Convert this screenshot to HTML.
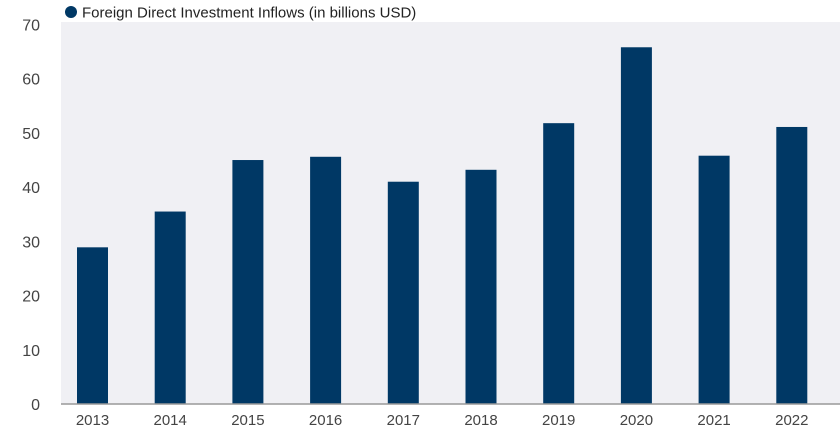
<!DOCTYPE html>
<html><head><meta charset="utf-8"><style>
body{margin:0;background:#fff;width:840px;height:433px;overflow:hidden;font-family:"Liberation Sans",sans-serif}
</style></head><body>
<svg id="chart" width="840" height="433" xmlns="http://www.w3.org/2000/svg">
<rect x="61" y="22" width="779" height="382" fill="#f0f0f4"/>
<circle cx="71" cy="12" r="6" fill="#003865"/>
<text x="82" y="17.5" font-size="15" fill="#222">Foreign Direct Investment Inflows (in billions USD)</text>
<g id="yaxis"></g><g id="bars"></g><g id="xaxis"></g>
<line x1="61" x2="840" y1="404" y2="404" stroke="#999" stroke-width="1.5"/>
</svg>
<script>
const categories=["2013","2014","2015","2016","2017","2018","2019","2020","2021","2022"];
const values=[28.9,35.5,45.0,45.6,41.0,43.2,51.8,65.8,45.8,51.1];
const yTicks=[0,10,20,30,40,50,60,70];
const NS="http://www.w3.org/2000/svg";
function y(v){return 404-v*(404-24.5)/70;}
function xc(i){return 92.5+i*77.7;}
const bw=31;
const ya=document.getElementById('yaxis'),bg=document.getElementById('bars'),xa=document.getElementById('xaxis');
yTicks.forEach(t=>{const e=document.createElementNS(NS,'text');


e.setAttribute('x',40);e.setAttribute('y',y(t)+6);e.setAttribute('text-anchor','end');e.setAttribute('font-size','16');e.setAttribute('fill','#444');e.textContent=t;ya.appendChild(e);});
categories.forEach((c,i)=>{const r=document.createElementNS(NS,'rect');


r.setAttribute('x',xc(i)-bw/2);r.setAttribute('y',y(values[i]));r.setAttribute('width',bw);r.setAttribute('height',404-y(values[i]));r.setAttribute('fill','#003865');bg.appendChild(r);
const t=document.createElementNS(NS,'text');


t.setAttribute('x',xc(i));t.setAttribute('y',425);t.setAttribute('text-anchor','middle');t.setAttribute('font-size','15');t.setAttribute('fill','#444');t.textContent=c;xa.appendChild(t);});
</script>
</body></html>
